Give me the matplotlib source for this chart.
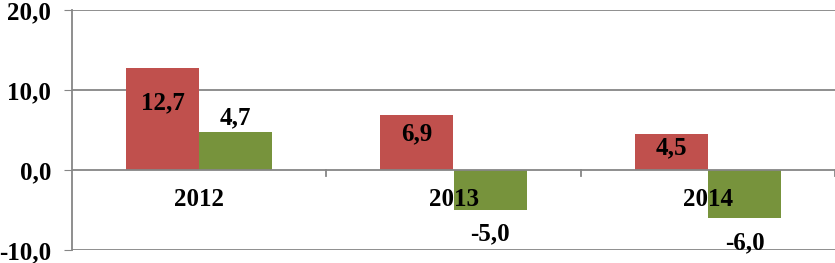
import matplotlib
matplotlib.use("Agg")
import matplotlib.pyplot as plt
import numpy as np

categories = ["2012", "2013", "2014"]
series_a = [12.7, 6.9, 4.5]
series_b = [4.7, -5.0, -6.0]
yticks = [-10, 0, 10, 20]

# label placement (layout only)
label_a_y = [8.4, 4.5, 2.75]
label_b_y = [6.5, -8.0, -9.1]

color_a = "#C0504D"
color_b = "#77933C"
grid_c = "#868686"

plt.rcParams['font.family'] = ['Liberation Serif', 'DejaVu Serif']
FS = 18

fig = plt.figure(figsize=(8.35, 2.63), dpi=100)
ax = fig.add_axes([72/835, 1-250/263, 1-72/835, 240/263])

x = np.arange(len(categories))
w = 0.288
ax.bar(x - w/2, series_a, w, color=color_a, zorder=3)
ax.bar(x + w/2, series_b, w, color=color_b, zorder=3)

ax.set_xlim(-0.5, len(categories) - 0.5)
ax.set_ylim(-10, 20)
ax.set_yticks(yticks)
ax.set_yticklabels([f"{v:.1f}".replace('.', ',') for v in yticks],
                   fontsize=FS, fontweight='bold')
ax.tick_params(axis='y', length=6, color=grid_c, pad=9)
ax.set_xticks([])

for v in yticks:
    if v != 0:
        ax.axhline(v, color=grid_c, lw=1.3, zorder=1)
ax.axhline(0, color=grid_c, lw=1.3, zorder=4)
for b in np.arange(len(categories)) + 0.5:
    ax.plot([b, b], [0, -0.7], color=grid_c, lw=1.3, zorder=4, clip_on=False)

for s in ['top', 'right', 'bottom']:
    ax.spines[s].set_visible(False)
ax.spines['left'].set_color(grid_c)
ax.spines['left'].set_linewidth(1.3)

fmt = lambda v: f"{v:.1f}".replace('.', ',')
for i in range(len(categories)):
    ax.text(x[i] - w/2, label_a_y[i], fmt(series_a[i]), ha='center', va='center',
            fontsize=FS, fontweight='bold', zorder=5)
    ax.text(x[i] + w/2, label_b_y[i], fmt(series_b[i]), ha='center', va='center',
            fontsize=FS, fontweight='bold', zorder=5)
    ax.text(x[i], -3.7, categories[i], ha='center', va='center',
            fontsize=FS, fontweight='bold', zorder=5)

fig.savefig("out.png", dpi=100)
